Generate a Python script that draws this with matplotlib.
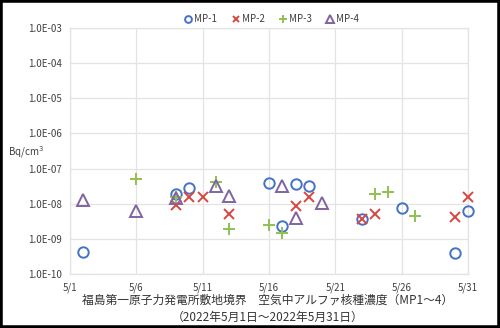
import matplotlib
matplotlib.use("Agg")
import matplotlib.pyplot as plt
from matplotlib.patches import Rectangle
from matplotlib.ticker import FuncFormatter, FixedLocator

plt.rcParams['font.family'] = ['Noto Sans CJK JP', 'DejaVu Sans']

# day of May -> concentration (Bq/cm3)
mp1_days = [2, 9, 10, 16, 17, 18, 19, 23, 26, 30, 31]
mp1_vals = [4.2e-10, 1.9e-8, 2.8e-8, 3.9e-8, 2.4e-9, 3.7e-8, 3.3e-8, 3.7e-9, 7.5e-9, 4.0e-10, 6.4e-9]
mp2_days = [9, 10, 11, 13, 18, 19, 23, 24, 30, 31]
mp2_vals = [9.0e-9, 1.6e-8, 1.6e-8, 5.0e-9, 8.4e-9, 1.6e-8, 3.7e-9, 5.2e-9, 4.2e-9, 1.55e-8]
mp3_days = [6, 9, 12, 13, 16, 17, 24, 25, 27]
mp3_vals = [4.9e-8, 1.55e-8, 4.2e-8, 1.9e-9, 2.5e-9, 1.5e-9, 1.9e-8, 2.15e-8, 4.6e-9]
mp4_days = [2, 6, 9, 12, 13, 17, 18, 20]
mp4_vals = [1.24e-8, 6.2e-9, 1.45e-8, 3.2e-8, 1.7e-8, 3.3e-8, 3.9e-9, 1.05e-8]

x_ticks = [1, 6, 11, 16, 21, 26, 31]
x_labels = ["5/1", "5/6", "5/11", "5/16", "5/21", "5/26", "5/31"]
y_ticks = [1e-10, 1e-9, 1e-8, 1e-7, 1e-6, 1e-5, 1e-4, 1e-3]

fig = plt.figure(figsize=(5.0, 3.28), dpi=100)
ax = fig.add_axes([0.14, 0.1646, 0.796, 0.75])

series = [
    ("MP-1", mp1_days, mp1_vals, dict(marker="o", color="#4472C4", mfc="none", ms=7.5, mew=1.4)),
    ("MP-2", mp2_days, mp2_vals, dict(marker="x", color="#D9463F", ms=7.5, mew=1.4)),
    ("MP-3", mp3_days, mp3_vals, dict(marker="+", color="#92C050", ms=8.5, mew=1.4)),
    ("MP-4", mp4_days, mp4_vals, dict(marker="^", color="#8064A2", mfc="none", ms=8, mew=1.4)),
]
for name, d, v, st in series:
    ax.plot(d, v, linestyle="none", label=name, clip_on=False, zorder=3, **st)

ax.set_yscale("log")
ax.set_ylim(1e-10, 1e-3)
ax.set_xlim(1, 31)
ax.yaxis.set_major_locator(FixedLocator(y_ticks))
ax.yaxis.set_minor_locator(FixedLocator([]))
ax.yaxis.set_major_formatter(FuncFormatter(lambda v, p: f"{v:.1E}"))
ax.set_xticks(x_ticks)
ax.set_xticklabels(x_labels)
ax.tick_params(axis="both", length=0, labelsize=7, colors="#404040", pad=6)
ax.grid(True, color="#E3E3E3", linewidth=0.9)
for s in ax.spines.values():
    s.set_color("#E3E3E3")
    s.set_linewidth(0.9)

fig.text(0.016, 0.535, "Bq/cm$^3$", fontsize=7, color="#404040", ha="left", va="center")

leg = ax.legend(loc="lower center", bbox_to_anchor=(0.507, 1.0), ncol=4, frameon=False,
                fontsize=7, handlelength=0.8, handletextpad=0.2, columnspacing=1.5,
                borderaxespad=0.0, markerscale=0.65)
for t in leg.get_texts():
    t.set_color("#404040")

fig.text(0.535, 0.085, "福島第一原子力発電所敷地境界　空気中アルファ核種濃度（MP1～4）",
         fontsize=8.5, ha="center", va="center", color="#333333")
fig.text(0.535, 0.033, "（2022年5月1日～2022年5月31日）",
         fontsize=8.5, ha="center", va="center", color="#333333")

fig.patches.append(Rectangle((0, 0), 1, 1, transform=fig.transFigure, fill=False,
                             edgecolor="black", linewidth=4, zorder=10))

fig.savefig("out.png", dpi=100)
